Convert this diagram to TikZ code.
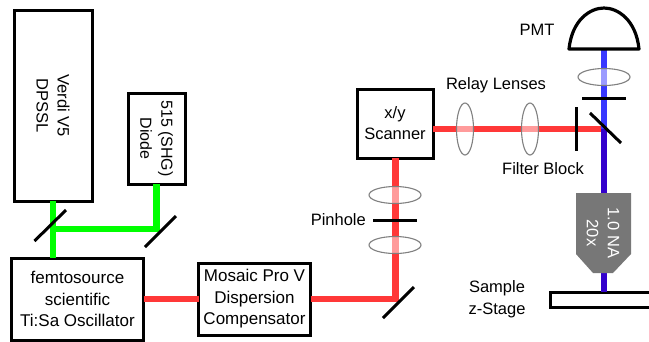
\documentclass[tikz,border=0pt]{standalone}
\usepackage{fontspec}
\setmainfont{Liberation Sans}
\usetikzlibrary{shapes.geometric,calc}
\definecolor{beamred}{HTML}{FF3838}
\definecolor{beamgreen}{HTML}{00FF00}
\definecolor{beamblue}{HTML}{3838FF}
\definecolor{beamviolet}{HTML}{3300CC}
\definecolor{objgray}{HTML}{777777}
\tikzset{
	box/.style={draw, line width=3pt, align=center, inner sep=0pt, outer sep=0pt},
	lbl/.style={inner sep=0pt, align=center},
	beam/.style={line width=6.5pt},
	mirror/.style={line width=3pt},
	lens/.style={ellipse, draw=gray, line width=1.1pt, fill=white, fill opacity=0.5, inner sep=0pt},
	bigtext/.style={font=\fontsize{17}{21.5}\selectfont},
	lowtext/.style={execute at begin node={\rule{0pt}{15.5pt}}}
}
\begin{document}
\begin{tikzpicture}[x=1pt, y=-1pt, font=\fontsize{16.5}{21}\selectfont, line join=miter]
	\useasboundingbox (0,0) rectangle (649,341);
	% sources and boxes
	\node[box, rotate=-90, minimum width=191pt, minimum height=78pt] (verdi) at (53,105.5) {Verdi V5\\DPSSL};
	\node[box, rotate=-90, minimum width=91pt, minimum height=57pt, font=\fontsize{16}{21}\selectfont] (diode) at (156.5,138.5) {515 (SHG)\\Diode};
	\node[box, bigtext, lowtext, minimum width=132pt, minimum height=82pt] (femto) at (77.5,299) {femtosource\\scientific\\Ti:Sa Oscillator};
	\node[box, bigtext, lowtext, minimum width=112pt, minimum height=72pt] (mosaic) at (254.5,299) {Mosaic Pro V\\Dispersion\\Compensator};
	\node[box, lowtext, minimum width=76pt, minimum height=69pt] (scanner) at (395,123.5) {x/y\\Scanner};
	\node[box, fill=white, minimum width=110pt, minimum height=15pt] (stage) at (605,299.5) {};
	% beam corners
	\coordinate (greenA) at (53,229);
	\coordinate (greenB) at (156.5,229);
	\coordinate (redA) at (395.5,299);
	\coordinate (redB) at (604,129);
	% beams
	\draw[beam, beamgreen] (verdi.east) -- (verdi.east |- femto.north);
	\draw[beam, beamgreen] (greenA) -- (greenB) -- (diode.east);
	\draw[beam, beamred] (femto.east |- mosaic.west) -- (mosaic.west);
	\draw[beam, beamred] (mosaic.east |- redA) -- (redA) -- (redA |- scanner.south);
	\draw[beam, beamred] (scanner.east |- redB) -- (redB);
	\coordinate (pmtbase) at (604,49);
	\draw[beam, beamblue] (pmtbase) -- (redB);
	\draw[beam, beamviolet] (redB) -- (redB |- stage.north);
	% mirrors and stops
	\draw[mirror] (34.5,241) -- (66,210);
	\draw[mirror] (145,247) -- (176,216);
	\draw[mirror] (383,318) -- (414,287);
	\draw[mirror] (590,113) -- (621,143);
	\draw[mirror] (373,220) -- (417,220);
	\draw[mirror] (576,107) -- (576,151);
	\draw[mirror] (582,98) -- (626,98);
	% lenses
	\node[lens, minimum width=52pt, minimum height=17pt] (lensA) at (395,195) {};
	\node[lens, minimum width=52pt, minimum height=17pt] (lensB) at (395,245) {};
	\node[lens, minimum width=17pt, minimum height=52pt] (lensC) at (465,129) {};
	\node[lens, minimum width=17pt, minimum height=52pt] (lensD) at (530,129) {};
	\node[lens, minimum width=52pt, minimum height=17pt] (lensE) at (604,77) {};
	% objective and PMT
	\fill[objgray] (576,193) -- (631,193) -- (631,254) -- (613,273) -- (593,273) -- (576,254) -- cycle;
	\node[lbl, white, rotate=-90] (objtext) at (603,233) {1.0 NA\\20x};
	\draw[line width=3.2pt, line join=round, fill=white] (569,49) .. controls (572,20) and (590,8) .. (604,8) .. controls (618,8) and (636,20) .. (639,49) -- cycle;
	% labels
	\node[lbl] (pmtlbl) at (537,30) {PMT};
	\node[lbl] (relaylbl) at (496,85) {Relay Lenses};
	\node[lbl] (filterlbl) at (543,169) {Filter Block};
	\node[lbl, anchor=east] (pinlbl) at (366,220) {Pinhole};
	\node[lbl, font=\fontsize{16.5}{22}\selectfont] (samplelbl) at (497,299.5) {Sample\\z-Stage};
\end{tikzpicture}
\end{document}
